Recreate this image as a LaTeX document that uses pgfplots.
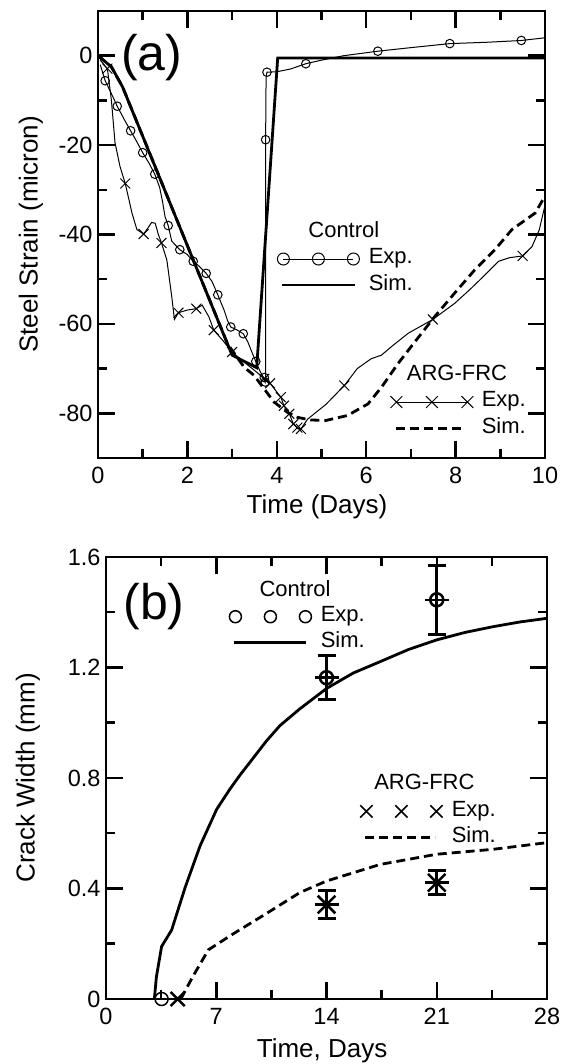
\documentclass[border=0pt]{standalone}
\usepackage{fontspec}
\setmainfont{Liberation Sans}
\usepackage{pgfplots}
\pgfplotsset{compat=1.18}
\newcommand{\tickfont}{\fontsize{23.5}{28}\selectfont}
\newcommand{\legfont}{\fontsize{22}{26}\selectfont}
\newcommand{\labfont}{\fontsize{26}{30}\selectfont}
\pgfplotsset{
  myframe/.style={
    scale only axis, clip=false,
    axis line style={line width=2.5pt},
    tick style={line width=2.5pt, black},
    major tick length=17pt,
    minor tick length=9pt,
    tick align=inside,
    ticklabel style={font=\tickfont},
    xticklabel style={yshift=-6pt},
    yticklabel style={xshift=-2pt},
    label style={font=\labfont},
  },
  myleg/.style={
    legend cell align=left,
    legend style={draw=none, fill=none, inner sep=0pt, outer sep=0pt,
      row sep=9pt, column sep=7pt, font=\legfont, nodes={inner sep=0pt},
      at={(axis description cs:#1)}, anchor=west},
  },
}
\begin{document}
\begin{tikzpicture}
\path[use as bounding box] (0pt,0pt) rectangle (564pt,1064pt);
% ================= (a) =================
\begin{axis}[myframe, at={(98pt,606pt)}, anchor=south west, width=447pt, height=447pt,
  xmin=0, xmax=10, ymin=-90, ymax=10,
  xtick={0,2,4,6,8,10}, xticklabels={0,2,4,6,8,10}, minor x tick num=1,
  ytick={-80,-60,-40,-20,0}, yticklabels={-80,-60,-40,-20,0}, minor y tick num=1,
  xlabel={Time (Days)}, ylabel={Steel Strain (micron)},
  xlabel style={at={(axis description cs:0.49,-0.1096)}, anchor=center},
  ylabel style={at={(axis description cs:-0.150,0.5)}, anchor=center},
  myleg={0.396,0.42}]
% Control Sim
\addplot[black, line width=2.8pt, forget plot] coordinates {
(0,0) (0.3,-2.5) (0.55,-7) (3.0,-67) (3.55,-69.8) (4.02,-0.5) (10,-0.5)};
% Control Exp line
\addplot[black, line width=1pt, forget plot] coordinates {
(0.05,-2) (0.16,-5.6) (0.3,-8.5) (0.43,-11.3) (0.6,-14.5) (0.73,-16.8) (0.87,-19.3)
(1.0,-21.7) (1.15,-24.2) (1.27,-26.5) (1.38,-29.5) (1.45,-33) (1.5,-36) (1.57,-38)
(1.65,-41.5) (1.83,-43.4) (2.0,-44.5) (2.13,-46) (2.25,-47) (2.42,-48.7) (2.55,-50.5)
(2.68,-53.5) (2.82,-56.9) (2.9,-59.3) (2.97,-60.7) (3.1,-61.3) (3.25,-62.2) (3.35,-64)
(3.45,-66.5) (3.53,-68.4) (3.62,-70.5) (3.7,-71.9) (3.74,-73) (3.75,-72) (3.75,-18.8)
(3.76,-5) (3.78,-3.7) (4.0,-3.6) (4.3,-3.0) (4.65,-1.8) (5.0,-1.0) (5.5,0) (6.26,1.0)
(7.0,1.8) (7.87,2.7) (8.7,3.0) (9.47,3.4) (10,4.0)};
% Control Exp marks
\addplot[black, only marks, mark=o, mark size=4.3pt, mark options={line width=1pt}, forget plot] coordinates {
(0.16,-5.6) (0.43,-11.3) (0.73,-16.8) (1.0,-21.7) (1.27,-26.5) (1.57,-38) (1.83,-43.4)
(2.13,-46) (2.42,-48.7) (2.68,-53.5) (2.97,-60.7) (3.25,-62.2) (3.53,-68.4) (3.72,-72)
(3.74,-73) (3.75,-18.8) (3.78,-3.7) (4.65,-1.8) (6.26,1.0) (7.87,2.7) (9.47,3.4)};
\addlegendimage{black, line width=1pt, mark=o, mark size=6pt,
  legend image code/.code={\path (-7pt,-2pt) (77pt,-2pt);
  \draw plot coordinates {(0pt,-2pt) (35pt,-2pt) (70pt,-2pt)};}}
\addlegendentry{Exp.}
\addlegendimage{black, line width=2.8pt,
  legend image code/.code={\path (-7pt,-2pt) (77pt,-2pt);
  \draw (-1pt,-2pt) -- (72pt,-2pt);}}
\addlegendentry{Sim.}
\node[font=\fontsize{50}{56}\selectfont] at (axis description cs:0.120,0.895) {(a)};
\node[font=\legfont] at (axis description cs:0.550,0.510) {Control};
\end{axis}
\begin{axis}[myframe, hide axis, at={(98pt,606pt)}, anchor=south west, width=447pt, height=447pt,
  xmin=0, xmax=10, ymin=-90, ymax=10, myleg={0.6488,0.10}]
% ARG-FRC Sim
\addplot[black, line width=2.8pt, dash pattern=on 9pt off 5pt, forget plot] coordinates {
(0,0) (0.3,-2.5) (0.55,-7) (2.9,-64.5) (3.27,-69.7) (3.49,-71.5) (3.94,-77.5) (4.24,-79.8)
(4.46,-80.9) (4.76,-81.5) (5.1,-81.6) (5.58,-80.5) (6.04,-77.9) (6.34,-74.2) (6.71,-68.9)
(7.09,-64.0) (7.53,-58.4) (7.98,-53.1) (8.43,-47.9) (8.88,-43.4) (9.26,-38.9) (9.78,-35.2)
(10,-31.4)};
% ARG-FRC Exp line
\addplot[black, line width=1pt, forget plot] coordinates {
(0.05,-1) (0.21,-2.9) (0.3,-10) (0.38,-19.4) (0.49,-24.7) (0.61,-28.6) (0.76,-35.2)
(0.87,-38.9) (1.02,-39.9) (1.12,-38.5) (1.2,-37.3) (1.28,-37.5) (1.35,-40) (1.42,-41.9)
(1.54,-45.7) (1.65,-53.9) (1.71,-59.0) (1.8,-57.5) (2.0,-56.9) (2.2,-56.6) (2.33,-55.8)
(2.48,-58.4) (2.59,-61.4) (2.8,-63.8) (3.0,-66.3) (3.3,-68.8) (3.55,-70.8) (3.72,-72.3)
(3.85,-73.3) (4.09,-76.4) (4.16,-78.3) (4.28,-80.1) (4.37,-82.4) (4.46,-83.2) (4.54,-83.5)
(4.69,-81.3) (5.1,-78) (5.51,-73.8) (5.8,-70) (6.11,-67.8) (6.34,-67) (6.6,-64.8)
(6.94,-62.1) (7.49,-59.0) (7.98,-55.4) (8.3,-52.5) (8.58,-49.8) (8.96,-46.0) (9.2,-45.2)
(9.5,-44.8) (9.71,-42.7) (9.87,-39) (10.0,-33.5)};
% ARG-FRC Exp marks
\addplot[black, only marks, mark=x, mark size=7pt, mark options={line width=1pt}, forget plot] coordinates {
(0.21,-2.9) (0.61,-28.6) (1.02,-39.9) (1.42,-41.9) (1.8,-57.5) (2.2,-56.6) (2.59,-61.4)
(3.0,-66.3) (3.72,-72.3) (3.85,-73.3) (4.09,-76.4) (4.16,-78.3) (4.28,-80.1) (4.37,-82.4)
(4.46,-83.2) (4.54,-83.5) (5.51,-73.8) (7.49,-59.0) (9.5,-44.8)};
\addlegendimage{black, line width=1pt, mark=x, mark size=8.3pt,
  legend image code/.code={\path (-7pt,-2pt) (77pt,-2pt);
  \draw plot coordinates {(0pt,-2pt) (35.5pt,-2pt) (71pt,-2pt)};}}
\addlegendentry{Exp.}
\addlegendimage{black, line width=2.8pt, dash pattern=on 9pt off 5pt,
  legend image code/.code={\path (-7pt,-2pt) (77pt,-2pt);
  \draw (0pt,-2pt) -- (69pt,-2pt);}}
\addlegendentry{Sim.}
\node[font=\legfont] at (axis description cs:0.803,0.190) {ARG-FRC};
\end{axis}
% ================= (b) =================
\begin{axis}[myframe, at={(106pt,65pt)}, anchor=south west, width=441pt, height=442pt,
  xmin=0, xmax=28, ymin=0, ymax=1.6,
  xtick={0,7,14,21,28}, xticklabels={0,7,14,21,28}, minor x tick num=1,
  ytick={0,0.4,0.8,1.2,1.6}, yticklabels={0,0.4,0.8,1.2,1.6}, minor y tick num=1,
  xlabel={Time, Days}, ylabel={Crack Width (mm)},
  xlabel style={at={(axis description cs:0.49,-0.1165)}, anchor=center},
  ylabel style={at={(axis description cs:-0.177,0.5)}, anchor=center},
  myleg={0.2744,0.8395}]
% Control Sim
\addplot[black, line width=2.8pt, forget plot] coordinates {
(3.07,0) (3.2,0.08) (3.53,0.19) (4.17,0.25) (5.02,0.403) (5.97,0.554) (7.03,0.687)
(7.87,0.76) (8.5,0.81) (10.2,0.935) (11.05,0.99) (12.3,1.05) (14,1.124) (15.7,1.18)
(17.4,1.221) (19.2,1.265) (21,1.30) (22.8,1.327) (24.6,1.348) (26.3,1.365) (28,1.378)};
\addplot[black, only marks, mark=o, mark size=6.5pt, mark options={line width=1.5pt}, forget plot]
  coordinates {(3.53,0)};
\addplot[black, only marks, mark=o, mark size=6.5pt, mark options={line width=2.5pt}, forget plot,
  error bars/.cd, y dir=both, y explicit, error bar style={line width=3pt},
  error mark options={rotate=90, line width=3pt, mark size=9pt}]
  coordinates {(14,1.163) +- (0,0.08) (21,1.445) +- (0,0.125)};
\addplot[black, only marks, mark=+, mark size=12pt, mark options={line width=2.5pt}, forget plot]
  coordinates {(14,1.163) (21,1.445)};
\addlegendimage{black, mark=o, mark size=6pt, mark options={line width=1.5pt},
  legend image code/.code={\path (-7pt,-2pt) (77pt,-2pt);
  \draw plot[only marks] coordinates {(0pt,-2pt) (35pt,-2pt) (70pt,-2pt)};}}
\addlegendentry{Exp.}
\addlegendimage{black, line width=2.8pt,
  legend image code/.code={\path (-7pt,-2pt) (77pt,-2pt);
  \draw (-1pt,-2pt) -- (71pt,-2pt);}}
\addlegendentry{Sim.}
\node[font=\fontsize{50}{56}\selectfont] at (axis description cs:0.109,0.887) {(b)};
\node[font=\legfont] at (axis description cs:0.4286,0.929) {Control};
\end{axis}
\begin{axis}[myframe, hide axis, at={(106pt,65pt)}, anchor=south west, width=441pt, height=442pt,
  xmin=0, xmax=28, ymin=0, ymax=1.6, myleg={0.5714,0.399}]
\addplot[black, line width=2.8pt, dash pattern=on 9pt off 5pt, forget plot] coordinates {
(4.75,0) (5.5,0.08) (6.5,0.178) (8.08,0.236) (10.2,0.31) (12.3,0.385) (14,0.427)
(17.4,0.487) (21,0.524) (24.6,0.542) (28,0.566)};
\addplot[black, only marks, mark=x, mark size=10pt, mark options={line width=2.5pt}, forget plot]
  coordinates {(4.55,0)};
\addplot[black, only marks, mark=x, mark size=12.5pt, mark options={line width=2.5pt}, forget plot,
  error bars/.cd, y dir=both, y explicit, error bar style={line width=3pt},
  error mark options={rotate=90, line width=3pt, mark size=9pt}]
  coordinates {(14,0.342) +- (0,0.052) (21,0.421) +- (0,0.044)};
\addplot[black, only marks, mark=+, mark size=12pt, mark options={line width=2.5pt}, forget plot]
  coordinates {(14,0.342) (21,0.421)};
\addlegendimage{black, mark=x, mark size=8.7pt, mark options={line width=1.5pt},
  legend image code/.code={\path (-7pt,-2pt) (77pt,-2pt);
  \draw plot[only marks] coordinates {(0pt,-2pt) (35pt,-2pt) (70pt,-2pt)};}}
\addlegendentry{Exp.}
\addlegendimage{black, line width=2.8pt, dash pattern=on 9pt off 5pt,
  legend image code/.code={\path (-7pt,-2pt) (77pt,-2pt);
  \draw (-1pt,-2pt) -- (69pt,-2pt);}}
\addlegendentry{Sim.}
\node[font=\legfont] at (axis description cs:0.722,0.4916) {ARG-FRC};
\end{axis}
\end{tikzpicture}
\end{document}
